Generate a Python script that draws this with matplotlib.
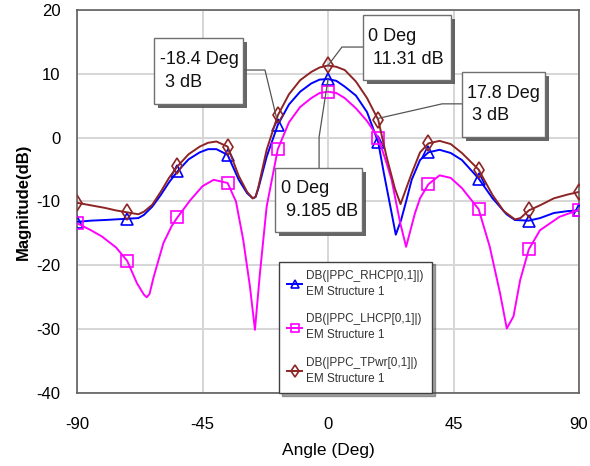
import matplotlib
matplotlib.use('Agg')
import matplotlib.pyplot as plt
import matplotlib.patheffects as pe
from matplotlib.patches import Rectangle

plt.rcParams['font.family'] = ['Liberation Sans', 'DejaVu Sans']
plt.rcParams['axes.unicode_minus'] = False

# angles where the markers sit
marker_ang = [-90, -72, -54, -36, -18, 0, 18, 36, 54, 72, 90]

# RHCP (blue)
rhcp_ang = [-90, -85, -80, -76, -72, -68, -66, -63, -60, -57, -54, -50, -46, -43, -40,
            -36, -32, -29, -27, -26, -25, -22, -18, -14, -10, -6, -3, 0, 3, 6, 10, 14,
            18, 20, 22.8, 24.3, 26.2, 28, 30, 33, 36, 40, 44, 48, 54, 59, 64, 67, 72,
            76, 81, 86, 90]
rhcp_db = [-13.2, -13.0, -12.9, -12.8, -12.7, -12.6, -12.1, -10.8, -9.0, -7.0, -5.3, -3.4,
           -2.3, -1.8, -1.8, -2.7, -6.6, -8.7, -9.5, -9.3, -8.0, -3.0, 2.0, 5.2, 7.2, 8.5,
           9.1, 9.185, 8.9, 8.0, 6.6, 4.0, -0.7, -5.5, -11.8, -15.2, -12.9, -10.0, -6.6,
           -3.5, -2.3, -1.9, -2.4, -3.5, -6.4, -9.5, -12.0, -12.9, -13.0, -12.6, -11.8,
           -11.5, -11.4]

# LHCP (magenta)
lhcp_ang = [-90, -85, -81, -76, -72, -68.5, -66, -65, -64, -62.5, -59, -56, -54, -49.4,
            -45, -41, -36, -33, -30.4, -28, -26.2, -24.4, -22, -18, -14, -10, -6, -3, 0,
            3, 6, 10, 14, 18, 21, 22.8, 25.8, 28, 31.2, 33, 36, 40, 44, 48, 54, 58, 61.7,
            64.1, 66.5, 68.9, 72, 76, 83, 90]
lhcp_db = [-13.4, -14.5, -15.5, -17.2, -19.3, -22.8, -24.6, -25.0, -24.5, -21.8, -16.5,
           -13.8, -12.5, -9.8, -7.6, -6.6, -7.1, -10.0, -16.0, -23.3, -30.1, -21.2, -10.8,
           -1.8, 2.4, 4.8, 6.2, 7.0, 7.2, 7.0, 6.2, 4.6, 2.6, 0.0, -4.0, -6.6, -13.2,
           -17.1, -11.8, -9.5, -7.3, -5.9, -6.3, -7.9, -11.2, -17.1, -24.4, -29.9, -28.0,
           -22.3, -17.5, -14.5, -12.4, -11.3]

# total power (brown)
tpwr_ang = [-90, -85, -80, -76, -72, -68, -66, -63, -60, -57, -54, -50, -46, -43, -40,
            -36, -32, -29, -27, -26, -25, -22, -18, -14, -10, -6, -3, 0, 3, 6, 10, 14,
            18, 21, 24, 26, 28, 30, 33, 36, 40, 44, 48, 54, 59, 63, 67, 69, 72, 76, 81,
            86, 90]
tpwr_db = [-10.2, -10.6, -11.0, -11.4, -11.7, -12.0, -11.6, -10.5, -8.5, -6.3, -4.5, -2.6,
           -1.4, -0.8, -0.6, -1.4, -6.0, -8.5, -9.5, -9.3, -7.8, -1.9, 3.5, 6.8, 9.0, 10.3,
           11.0, 11.31, 11.1, 10.6, 8.8, 6.2, 2.8, -3.0, -8.0, -10.4, -8.0, -5.6, -2.3,
           -0.9, -0.5, -1.0, -2.4, -5.0, -9.0, -11.5, -12.8, -12.6, -11.4, -10.6, -9.5,
           -8.9, -8.5]

labels = ['DB(|PPC_RHCP[0,1]|)\nEM Structure 1',
          'DB(|PPC_LHCP[0,1]|)\nEM Structure 1',
          'DB(|PPC_TPwr[0,1]|)\nEM Structure 1']
colors = ['#0000FF', '#FF00FF', '#8E2424']

# callouts: text, marker point (angle, dB)
callout_text = ['-18.4 Deg\n 3 dB', '0 Deg\n 11.31 dB', '17.8 Deg\n 3 dB', '0 Deg\n 9.185 dB']
callout_pt = [(-18.4, 3.0), (0, 11.31), (17.8, 3.0), (0, 9.185)]


def marks(ang):
    return [i for i, a in enumerate(ang) if a in marker_ang]


def callout(ax, box, text, bend, pt):
    # box = (x0, y0, x1, y1) in data units
    x0, y0, x1, y1 = box
    shadow = [pe.SimplePatchShadow(offset=(3, -3), shadow_rgbFace='#555555', alpha=0.9),
              pe.Normal()]
    r = Rectangle((x0, y0), x1 - x0, y1 - y0, facecolor='white', edgecolor='#707070',
                  lw=1.0, zorder=6, path_effects=shadow)
    ax.add_patch(r)
    ax.text(x0 + 2.0, (y0 + y1) / 2, text, ha='left', va='center', fontsize=13,
            linespacing=1.45, color='#111111', zorder=7)
    xs = [p[0] for p in bend] + [pt[0]]
    ys = [p[1] for p in bend] + [pt[1]]
    ax.plot(xs, ys, color='#555555', lw=0.9, zorder=5)


fig = plt.figure(figsize=(5.9, 4.66), dpi=100)
ax = fig.add_axes([0.1305, 0.1567, 0.8509, 0.8218])

ax.plot(rhcp_ang, rhcp_db, color=colors[0], lw=1.4, marker='^', ms=8, mfc='none',
        mew=1.2, markevery=marks(rhcp_ang), label=labels[0], zorder=3)
ax.plot(lhcp_ang, lhcp_db, color=colors[1], lw=1.4, marker='s', ms=9, mfc='none',
        mew=1.2, markevery=marks(lhcp_ang), label=labels[1], zorder=3)
ax.plot(tpwr_ang, tpwr_db, color=colors[2], lw=1.4, marker='d', ms=8, mfc='none',
        mew=1.2, markevery=marks(tpwr_ang), label=labels[2], zorder=4)

ax.set_xlim(-90, 90)
ax.set_ylim(-40, 20)
ax.set_xticks([-90, -45, 0, 45, 90])
ax.set_yticks([-40, -30, -20, -10, 0, 10, 20])
ax.tick_params(length=0, labelsize=12)
ax.tick_params(axis='x', pad=17)
ax.tick_params(axis='y', pad=12)
ax.grid(True, color='#D6D6D6', lw=1.4)
ax.set_axisbelow(True)
for s in ax.spines.values():
    s.set_color('#606060')
    s.set_linewidth(1.2)

ax.set_xlabel('Angle (Deg)', fontsize=12.5, labelpad=8)
ax.set_ylabel('Magnitude(dB)', fontsize=12, fontweight='bold', labelpad=4)

callout(ax, (-62.4, 5.3, -30.5, 15.6), callout_text[0], [(-30.5, 10.6), (-22.6, 10.6)],
        callout_pt[0])
callout(ax, (12.5, 9.0, 44.1, 19.2), callout_text[1], [(12.5, 14.2), (5.0, 14.2)],
        callout_pt[1])
callout(ax, (48.0, 0.1, 77.8, 10.3), callout_text[2], [(48.0, 5.3), (40.9, 5.3)],
        callout_pt[2])
callout(ax, (-19.0, -14.8, 12.2, -4.7), callout_text[3], [(-3.2, -4.7), (-3.2, 0.1)],
        callout_pt[3])

leg = ax.legend(loc='lower left', bbox_to_anchor=(0.402, 0.0), borderaxespad=0,
                fontsize=8.5, fancybox=False, shadow=True, handlelength=1.3,
                handletextpad=0.3, labelspacing=1.3, borderpad=0.7, framealpha=1)
leg.get_frame().set_edgecolor('#404040')
leg.get_frame().set_linewidth(1.0)
for t in leg.get_texts():
    t.set_color('#333333')
    t.set_linespacing(1.45)
for h in leg.legend_handles:
    h.set_markersize(6)
leg.set_zorder(8)

fig.savefig('out.png', dpi=100)
